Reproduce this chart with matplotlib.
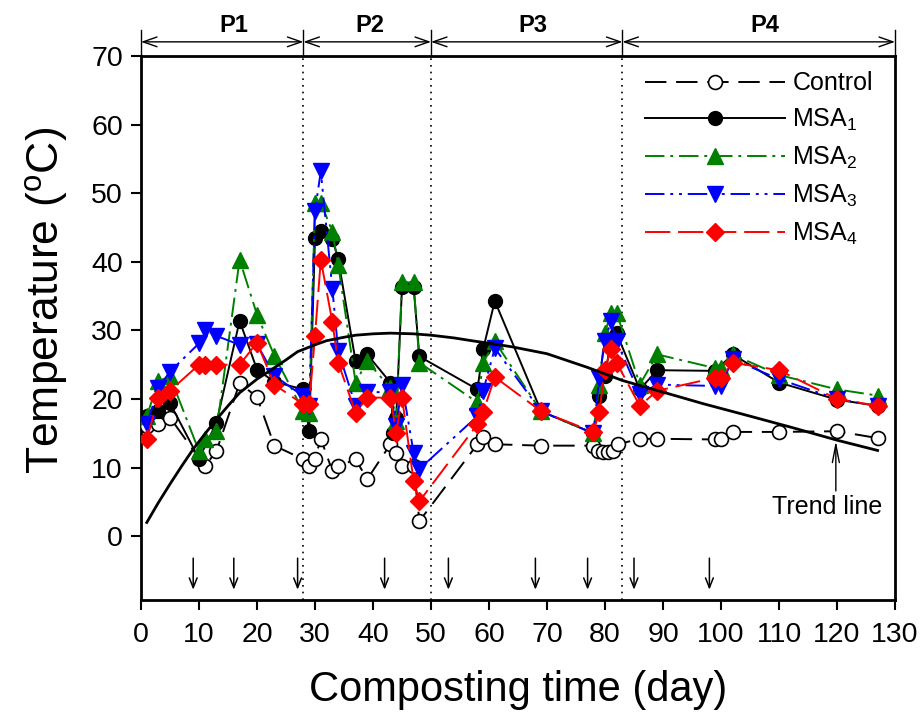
import numpy as np
import matplotlib
matplotlib.use("Agg")
import matplotlib.pyplot as plt

plt.rcParams['font.family'] = ['Liberation Sans', 'DejaVu Sans']
plt.rcParams['mathtext.fontset'] = 'custom'
plt.rcParams['mathtext.rm'] = 'Liberation Sans'
plt.rcParams['mathtext.it'] = 'Liberation Sans:italic'

# ---------------- data ----------------
ctrl_day = [1, 3, 5, 11, 13, 17, 20, 23, 28, 29, 30, 31, 33, 34, 37, 39, 43, 44, 45, 47, 48,
            58, 59, 61, 69, 78, 78.8, 79.6, 80.5, 81.4, 82.2, 86, 89, 99, 100, 102, 110, 120, 127]
ctrl_temp = [16, 16.3, 17.3, 10.2, 12.4, 22.3, 20.3, 13.2, 11.2, 10.2, 11.3, 14.2, 9.5, 10.2, 11.2, 8.3,
             13.4, 12.2, 10.2, 10.2, 2.2,
             13.4, 14.4, 13.4, 13.2, 13.2, 12.4, 12.3, 12.3, 12.4, 13.4, 14.2, 14.2, 14.1, 14.1, 15.2,
             15.2, 15.3, 14.3]

msa1_day = [1, 3, 5, 10, 13, 17, 20, 23, 28, 29, 30, 31, 33, 34, 37, 39, 43, 43.5, 44, 45, 47, 48,
            58, 59, 61, 69, 78, 79, 80, 81, 82, 86, 89, 99, 102, 110, 120, 127]
msa1_temp = [17.5, 18.2, 19.4, 11.3, 16.5, 31.4, 24.3, 22.5, 21.4, 15.3, 43.5, 44.5, 43.3, 40.4,
             25.5, 26.5, 22.4, 15.1, 17.3, 36.3, 36.3, 26.2,
             21.4, 27.3, 34.3, 18.2, 15.0, 20.4, 23.3, 28.5, 29.6, 21.4, 24.2, 24.1, 26.5, 22.4, 19.9, 19.0]

msa2_day = [1, 3, 5, 10, 11, 13, 17, 20, 23, 28, 29, 30, 31, 33, 34, 37, 39, 43, 44, 45, 47, 48,
            58, 59, 61, 69, 78, 79, 80, 81, 82, 86, 89, 99, 100, 102, 110, 120, 127]
msa2_temp = [17.5, 22.6, 23.3, 12.4, 14.1, 15.3, 40.3, 32.3, 26.3, 18.2, 18.0, 48.6, 48.6, 44.4, 39.6,
             22.4, 25.5, 21.6, 16.8, 37.0, 37.0, 25.3,
             19.5, 25.3, 28.4, 18.2, 15.0, 22.1, 29.6, 32.6, 32.6, 22.1, 26.5, 24.5, 24.5, 26.5, 23.5,
             21.4, 20.5]

msa3_day = [1, 3, 5, 10, 11, 13, 17, 20, 23, 28, 29, 30, 31, 33, 34, 37, 39, 43, 44, 45, 47, 48,
            58, 59, 61, 69, 78, 79, 80, 81, 82, 86, 89, 99, 100, 102, 110, 120, 127]
msa3_temp = [16.3, 21.6, 24.0, 28.1, 30.1, 29.2, 27.9, 28.0, 23.4, 20.4, 19.0, 47.4, 53.2, 36.0, 27.0,
             19.0, 21.0, 21.0, 16.0, 22.1, 12.2, 9.8,
             17.5, 21.2, 27.4, 18.2, 15.0, 23.1, 28.4, 31.4, 28.4, 20.7, 22.1, 21.9, 21.9, 25.8, 22.9,
             20.0, 19.0]

msa4_day = [1, 3, 5, 10, 11, 13, 17, 20, 23, 28, 29, 30, 31, 33, 34, 37, 39, 43, 44, 45, 47, 48,
            58, 59, 61, 69, 78, 79, 80, 81, 82, 86, 89, 99, 100, 102, 110, 120, 127]
msa4_temp = [14.1, 20.2, 21.2, 25.0, 25.0, 25.0, 25.0, 28.2, 22.1, 19.2, 19.2, 29.2, 40.3, 31.2, 25.3,
             18.0, 20.2, 20.2, 15.1, 20.2, 8.1, 5.1,
             16.3, 18.1, 23.2, 18.2, 15.2, 18.1, 24.3, 27.3, 25.3, 19.0, 21.2, 23.1, 23.1, 25.3, 24.2,
             20.0, 19.0]

trend_day = [1, 3, 5, 7, 9, 11, 13, 15, 17, 20, 22, 25, 27, 30, 32, 35, 37, 40, 43, 47, 50, 54, 57,
             61, 64, 70, 77, 83, 90, 97, 105, 112, 120, 127]
trend_temp = [2.0, 4.9, 7.6, 10.2, 12.7, 14.9, 17.0, 19.0, 20.9, 22.9, 24.0, 25.7, 26.9, 27.9, 28.5,
              29.0, 29.3, 29.5, 29.6, 29.5, 29.3, 28.9, 28.5, 28.0, 27.6, 26.6, 24.6,
              22.7, 21.0, 19.3, 17.5, 15.9, 14.0, 12.5]

arrow_days = [9, 16, 27, 42, 53, 68, 77, 85, 98]
period_bounds = [0, 28, 50, 83, 130]
period_label_x = [16, 39.5, 67.5, 107.5]
period_labels = ['P1', 'P2', 'P3', 'P4']

series_labels = ['Control', 'MSA$_1$', 'MSA$_2$', 'MSA$_3$', 'MSA$_4$']

# ---------------- figure ----------------
fig = plt.figure(figsize=(9.21, 7.2), dpi=100)
L, R, T, B = 141, 895, 56, 600
ax = fig.add_axes([L / 921, 1 - B / 720, (R - L) / 921, (B - T) / 720])

ax.plot(ctrl_day, ctrl_temp, color='black', ls=(0, (11, 5)), lw=1.4, marker='o', ms=10,
        mfc='white', mec='black', mew=1.2, label=series_labels[0], zorder=3)
ax.plot(msa1_day, msa1_temp, color='black', ls='-', lw=1.4, marker='o', ms=10,
        mfc='black', mec='black', label=series_labels[1], zorder=4)
ax.plot(msa2_day, msa2_temp, color='#008000', ls=(0, (10, 3, 1.5, 3)), lw=1.4, marker='^', ms=11,
        mfc='#008000', mec='#008000', label=series_labels[2], zorder=5)
ax.plot(msa3_day, msa3_temp, color='#0000FF', ls=(0, (10, 3, 1.5, 3, 1.5, 3)), lw=1.4, marker='v',
        ms=11, mfc='#0000FF', mec='#0000FF', label=series_labels[3], zorder=6)
ax.plot(msa4_day, msa4_temp, color='#FF0000', ls=(0, (13, 4)), lw=1.4, marker='D', ms=9,
        mfc='#FF0000', mec='#FF0000', label=series_labels[4], zorder=7)

ax.plot(trend_day, trend_temp, color='black', lw=2.0, zorder=8)

ax.set_xlim(0, 130)
ax.set_ylim(-9.3, 70)
ax.set_xticks(np.arange(0, 131, 10))
ax.set_yticks(np.arange(0, 71, 10))
ax.tick_params(direction='out', length=7, width=1.5, labelsize=20.5)
ax.tick_params(axis='x', pad=9)
ax.tick_params(axis='y', pad=6)
for s in ax.spines.values():
    s.set_linewidth(2.0)

ax.set_xlabel('Composting time (day)', fontsize=30, labelpad=16)
ax.set_ylabel('Temperature ($^{\\rm o}$C)', fontsize=32, labelpad=15)
ax.yaxis.label.set_y(0.551)

# period separators
for b in period_bounds[1:-1]:
    ax.axvline(b, color='black', ls=(0, (1, 3)), lw=1.2, zorder=1)
for b in period_bounds:
    ax.plot([b, b], [1.0, 1.047], transform=ax.get_xaxis_transform(), color='black', lw=1.0,
            clip_on=False)
for i, lab in enumerate(period_labels):
    x0, x1 = period_bounds[i], period_bounds[i + 1]
    ax.annotate('', xy=(x1, 1.026), xytext=(x0, 1.026), xycoords=ax.get_xaxis_transform(),
                textcoords=ax.get_xaxis_transform(),
                arrowprops=dict(arrowstyle='<->,head_length=1.0,head_width=0.35', lw=1.0,
                                color='black', shrinkA=0, shrinkB=0))
    ax.text(period_label_x[i], 1.035, lab, transform=ax.get_xaxis_transform(), ha='center',
            va='bottom', fontsize=17, fontweight='bold')

# turning arrows
for d in arrow_days:
    ax.annotate('', xy=(d, -7.8), xytext=(d, -3.2),
                arrowprops=dict(arrowstyle='->,head_length=0.7,head_width=0.28', lw=1.1,
                                color='black', shrinkA=0, shrinkB=0))

# trend line annotation
ax.annotate('', xy=(119.8, 13.9), xytext=(119.8, 6.6),
            arrowprops=dict(arrowstyle='->,head_length=1.3,head_width=0.25', lw=1.0,
                            color='black', shrinkA=0, shrinkB=0))
ax.text(118.3, 4.3, 'Trend line', ha='center', va='center', fontsize=18)

leg = ax.legend(loc='upper left', bbox_to_anchor=(0.655, 0.99), frameon=False, fontsize=18,
                handlelength=5.6, handletextpad=0.3, labelspacing=0.47, borderaxespad=0)

fig.savefig('out.png', dpi=100)
